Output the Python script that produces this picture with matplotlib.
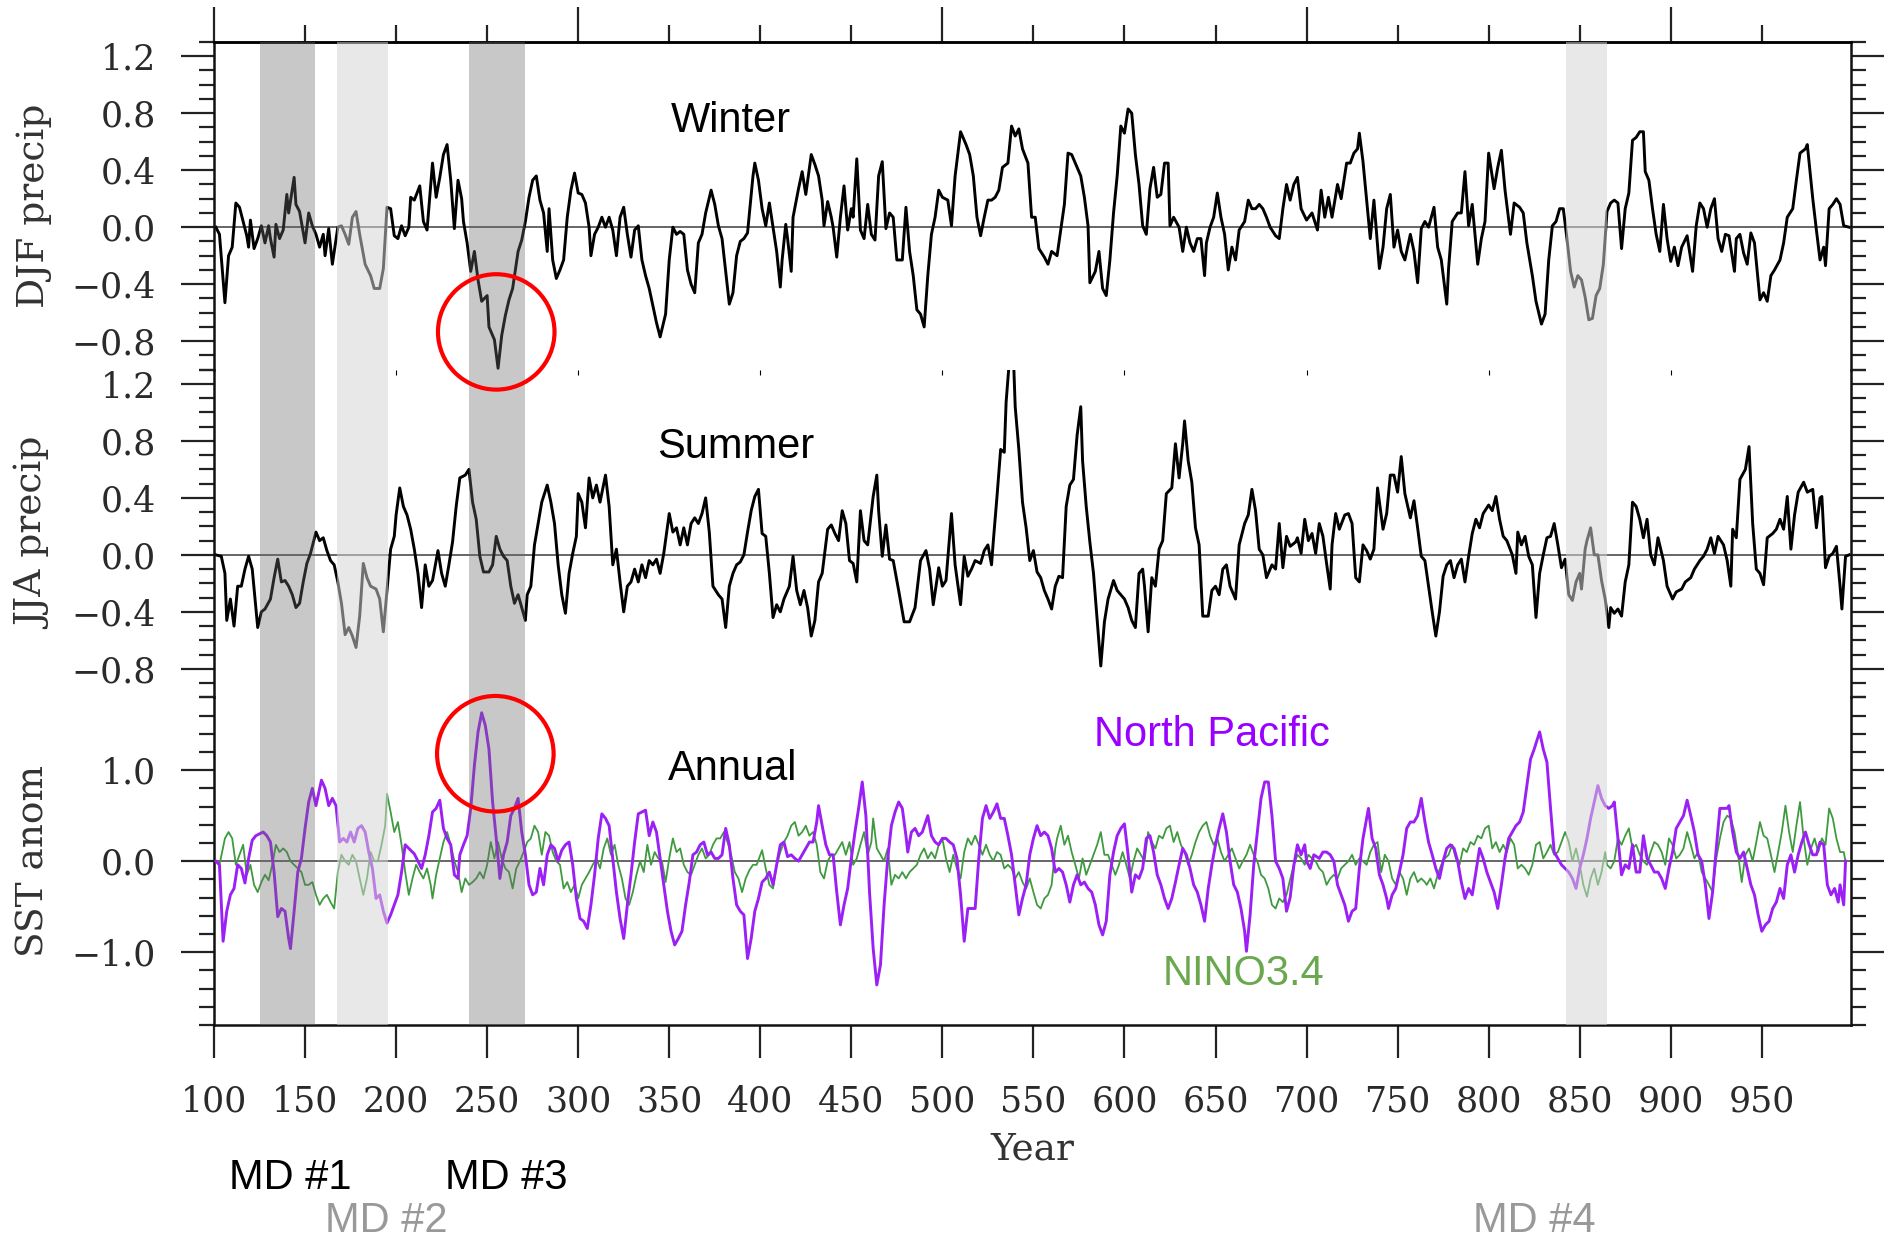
import matplotlib
matplotlib.use("Agg")
import matplotlib.pyplot as plt
from matplotlib.patches import Ellipse
from matplotlib.ticker import FuncFormatter
import numpy as np

plt.rcParams['font.family'] = ['DejaVu Serif']

# ---- data: (year, anomaly) ----
djf = [(101, 0.0), (103, -0.05), (106, -0.53), (108, -0.2), (110, -0.14), (112, 0.17), (114, 0.14), (116, 0.04),
       (118, -0.06), (119, -0.14), (120, 0.05), (122, -0.15), (124, -0.08), (126, 0.01), (128, -0.11), (130, 0.01),
       (131, -0.08), (133, -0.21), (134, 0.02), (136, -0.08), (138, -0.02), (140, 0.23), (141, 0.1), (144, 0.35),
       (145, 0.16), (147, 0.11), (150, -0.11), (152, 0.1), (154, 0.01), (156, -0.05), (158, -0.14), (160, -0.05),
       (161, -0.2), (163, -0.01), (165, -0.26), (168, 0.0), (170, 0.01), (172, -0.05), (174, -0.12), (176, 0.07),
       (178, 0.11), (180, -0.05), (183, -0.26), (186, -0.34), (188, -0.43), (191, -0.43), (193, -0.29), (194, -0.08),
       (195, 0.14), (197, 0.13), (199, -0.06), (201, -0.08), (203, 0.01), (205, -0.06), (207, 0.0), (208, 0.21),
       (210, 0.19), (213, 0.29), (215, 0.04), (217, -0.02), (219, 0.29), (220, 0.45), (222, 0.21), (224, 0.35),
       (226, 0.51), (228, 0.58), (230, 0.33), (232, -0.01), (234, 0.33), (236, 0.2), (237, 0.04), (239, -0.11),
       (241, -0.31), (243, -0.17), (245, -0.37), (247, -0.52), (250, -0.48), (251, -0.7), (254, -0.79), (256, -0.99),
       (258, -0.76), (260, -0.62), (262, -0.51), (264, -0.43), (267, -0.17), (269, -0.09), (271, 0.04), (273, 0.21),
       (275, 0.33), (277, 0.36), (279, 0.19), (281, 0.1), (283, -0.17), (284, 0.13), (286, -0.23), (288, -0.36),
       (290, -0.3), (292, -0.23), (294, 0.07), (296, 0.26), (298, 0.38), (300, 0.24), (302, 0.23), (304, 0.17),
       (306, 0.0), (307, -0.2), (309, -0.05), (311, 0.0), (313, 0.07), (315, 0.0), (317, 0.07), (319, -0.02),
       (321, -0.2), (323, 0.07), (325, 0.14), (327, -0.05), (329, -0.21), (331, -0.02), (333, 0.01), (335, -0.23),
       (337, -0.34), (339, -0.43), (341, -0.55), (343, -0.67), (345, -0.77), (348, -0.61), (350, -0.23), (352, 0.0),
       (354, -0.05), (356, -0.03), (358, -0.05), (360, -0.3), (362, -0.4), (364, -0.46), (366, -0.11), (368, -0.05),
       (370, 0.1), (373, 0.26), (375, 0.16), (377, 0.01), (379, -0.08), (381, -0.31), (383, -0.54), (385, -0.46),
       (387, -0.2), (389, -0.1), (391, -0.08), (393, -0.04), (396, 0.36), (397, 0.45), (399, 0.33), (401, 0.13),
       (403, 0.01), (405, 0.17), (407, 0.0), (409, -0.17), (411, -0.42), (412, -0.23), (414, 0.02), (415, -0.08),
       (417, -0.31), (418, 0.07), (421, 0.27), (423, 0.39), (425, 0.23), (428, 0.51), (430, 0.44), (432, 0.36),
       (434, 0.19), (435, 0.01), (437, 0.18), (439, 0.07), (440, 0.0), (442, -0.21), (444, 0.07), (446, 0.29),
       (448, -0.02), (450, 0.13), (451, 0.07), (453, 0.48), (455, -0.02), (457, -0.08), (459, 0.16), (461, -0.05),
       (463, -0.09), (465, 0.36), (467, 0.46), (469, -0.01), (471, 0.1), (473, 0.07), (475, -0.23), (478, -0.23),
       (480, 0.14), (482, -0.17), (484, -0.34), (486, -0.58), (488, -0.61), (490, -0.7), (492, -0.34), (494, -0.05),
       (496, 0.07), (498, 0.26), (500, 0.21), (503, 0.19), (505, 0.01), (507, 0.36), (510, 0.67), (513, 0.58),
       (515, 0.51), (517, 0.36), (519, 0.07), (521, -0.06), (523, 0.07), (525, 0.19), (527, 0.19), (529, 0.21),
       (531, 0.26), (533, 0.42), (536, 0.45), (538, 0.71), (540, 0.64), (542, 0.69), (544, 0.55), (547, 0.45),
       (549, 0.07), (551, 0.07), (553, -0.15), (556, -0.21), (558, -0.26), (560, -0.17), (563, -0.2), (565, -0.02),
       (567, 0.16), (569, 0.52), (571, 0.51), (574, 0.42), (576, 0.36), (578, 0.21), (580, 0.01), (581, -0.39),
       (584, -0.31), (586, -0.17), (588, -0.43), (590, -0.48), (592, -0.23), (594, 0.1), (596, 0.36), (598, 0.71),
       (600, 0.66), (602, 0.83), (604, 0.8), (606, 0.51), (608, 0.3), (610, 0.01), (612, -0.05), (614, 0.27),
       (616, 0.42), (618, 0.21), (620, 0.23), (622, 0.45), (624, 0.45), (625, 0.01), (627, 0.07), (630, 0.0),
       (632, -0.17), (634, 0.0), (636, -0.11), (638, -0.17), (640, -0.08), (642, -0.08), (644, -0.34), (645, -0.11),
       (647, 0.0), (649, 0.07), (651, 0.24), (653, 0.07), (655, -0.05), (657, -0.3), (659, -0.14), (661, -0.23),
       (663, -0.02), (666, 0.04), (668, 0.19), (670, 0.13), (672, 0.13), (674, 0.16), (676, 0.13), (678, 0.07),
       (680, 0.0), (683, -0.06), (685, -0.08), (687, 0.13), (689, 0.3), (691, 0.19), (693, 0.3), (695, 0.35),
       (697, 0.13), (700, 0.05), (703, 0.1), (706, -0.02), (708, 0.26), (710, 0.07), (712, 0.21), (714, 0.07),
       (717, 0.3), (719, 0.2), (722, 0.45), (724, 0.45), (726, 0.52), (728, 0.55), (729, 0.66), (731, 0.46),
       (733, 0.19), (735, -0.08), (737, 0.19), (740, -0.29), (742, -0.14), (744, 0.13), (746, 0.23), (748, -0.14),
       (750, -0.02), (752, -0.17), (754, -0.23), (757, -0.05), (759, -0.17), (761, -0.39), (763, -0.01), (765, 0.04),
       (767, 0.0), (770, 0.14), (772, -0.14), (774, -0.23), (777, -0.54), (778, -0.29), (780, 0.04), (783, 0.1),
       (785, 0.1), (787, 0.39), (789, 0.01), (791, 0.16), (794, -0.26), (796, -0.08), (798, 0.04), (800, 0.52),
       (803, 0.27), (805, 0.42), (807, 0.54), (809, 0.26), (812, -0.05), (814, 0.17), (817, 0.14), (819, 0.1),
       (821, -0.11), (824, -0.34), (826, -0.52), (829, -0.68), (831, -0.61), (833, -0.23), (835, 0.01), (837, 0.04),
       (839, 0.13), (841, 0.13), (843, -0.08), (845, -0.31), (847, -0.42), (849, -0.34), (851, -0.37), (853, -0.49),
       (855, -0.65), (857, -0.64), (859, -0.48), (861, -0.43), (863, -0.26), (865, 0.11), (867, 0.17), (869, 0.19),
       (871, 0.17), (873, -0.15), (875, 0.13), (877, 0.24), (879, 0.61), (881, 0.63), (883, 0.67), (885, 0.67),
       (886, 0.39), (888, 0.33), (890, 0.13), (892, -0.05), (894, -0.17), (896, 0.16), (898, -0.08), (900, -0.24),
       (902, -0.14), (904, -0.27), (906, -0.14), (909, -0.06), (912, -0.31), (914, 0.01), (916, 0.17), (918, 0.13),
       (920, 0.0), (922, 0.13), (924, 0.2), (926, -0.08), (928, -0.17), (930, -0.05), (932, -0.06), (935, -0.31),
       (936, -0.08), (938, -0.05), (940, -0.18), (942, -0.26), (944, -0.04), (946, -0.11), (949, -0.51), (951, -0.46),
       (953, -0.52), (955, -0.34), (957, -0.3), (960, -0.23), (962, -0.11), (964, 0.07), (967, 0.13), (969, 0.33),
       (971, 0.52), (974, 0.55), (975, 0.58), (978, 0.2), (980, -0.02), (982, -0.23), (984, -0.14), (985, -0.27),
       (987, 0.13), (989, 0.16), (991, 0.2), (993, 0.16), (995, 0.01), (998, 0.0)]

jja = [(101, 0.0), (104, -0.01), (106, -0.13), (107, -0.46), (109, -0.31), (111, -0.5), (113, -0.22), (115, -0.22),
       (117, -0.1), (119, -0.01), (121, -0.1), (124, -0.51), (126, -0.4), (128, -0.38), (131, -0.31), (133, -0.16),
       (135, -0.03), (137, -0.19), (139, -0.18), (141, -0.22), (143, -0.28), (145, -0.37), (147, -0.34), (149, -0.19),
       (151, -0.06), (153, 0.01), (156, 0.16), (158, 0.1), (160, 0.12), (162, 0.03), (164, -0.04), (166, -0.07),
       (168, -0.19), (170, -0.34), (172, -0.56), (174, -0.51), (176, -0.57), (178, -0.65), (180, -0.43), (182, -0.06),
       (184, -0.16), (186, -0.22), (189, -0.24), (191, -0.31), (193, -0.54), (195, -0.25), (197, 0.04), (199, 0.13),
       (200, 0.28), (202, 0.47), (204, 0.34), (206, 0.28), (208, 0.18), (210, 0.04), (212, -0.13), (214, -0.37),
       (216, -0.07), (218, -0.22), (220, -0.18), (222, -0.04), (223, 0.03), (225, -0.13), (227, -0.22), (229, -0.07),
       (231, 0.09), (233, 0.34), (235, 0.54), (238, 0.56), (240, 0.6), (242, 0.37), (244, 0.25), (246, -0.01),
       (248, -0.12), (251, -0.12), (253, -0.07), (255, 0.13), (257, 0.04), (259, -0.01), (261, -0.04), (263, -0.22),
       (265, -0.34), (267, -0.28), (269, -0.37), (271, -0.46), (272, -0.28), (274, -0.22), (276, 0.07), (278, 0.22),
       (280, 0.37), (283, 0.49), (285, 0.37), (287, 0.22), (289, -0.07), (291, -0.28), (293, -0.41), (295, -0.13),
       (297, 0.01), (299, 0.13), (300, 0.43), (302, 0.37), (304, 0.19), (306, 0.54), (308, 0.4), (310, 0.49),
       (312, 0.37), (315, 0.56), (317, 0.34), (319, -0.07), (321, 0.04), (323, -0.19), (325, -0.4), (327, -0.22),
       (329, -0.19), (331, -0.1), (333, -0.19), (335, -0.07), (337, -0.16), (339, -0.04), (341, -0.07), (343, -0.03),
       (345, -0.13), (347, 0.01), (350, 0.29), (352, 0.16), (354, 0.19), (356, 0.07), (358, 0.19), (360, 0.07),
       (362, 0.22), (364, 0.26), (366, 0.22), (368, 0.29), (370, 0.4), (372, 0.16), (374, -0.22), (377, -0.28),
       (379, -0.31), (381, -0.51), (383, -0.22), (385, -0.13), (387, -0.07), (389, -0.05), (391, 0.0), (393, 0.16),
       (395, 0.31), (397, 0.41), (399, 0.46), (401, 0.15), (403, 0.13), (405, -0.13), (407, -0.44), (409, -0.35),
       (411, -0.4), (413, -0.31), (416, -0.22), (418, -0.01), (420, -0.25), (422, -0.35), (424, -0.25), (426, -0.37),
       (428, -0.57), (430, -0.46), (432, -0.19), (434, -0.13), (437, 0.18), (439, 0.21), (441, 0.15), (443, 0.1),
       (445, 0.31), (447, 0.22), (449, -0.04), (451, -0.06), (453, -0.19), (455, 0.31), (457, 0.1), (459, 0.07),
       (462, 0.41), (464, 0.56), (465, 0.31), (467, -0.01), (469, 0.21), (471, -0.03), (473, -0.04), (476, -0.25),
       (479, -0.47), (482, -0.47), (485, -0.37), (488, -0.04), (491, 0.03), (493, -0.1), (495, -0.35), (498, -0.09),
       (500, -0.22), (502, -0.18), (505, 0.29), (507, -0.07), (510, -0.35), (512, -0.01), (514, -0.15), (516, -0.1),
       (518, -0.04), (521, -0.06), (523, 0.03), (525, 0.07), (527, -0.07), (528, 0.1), (530, 0.41), (532, 0.74),
       (534, 0.72), (535, 1.07), (537, 1.4), (539, 1.4), (540, 1.04), (542, 0.74), (544, 0.37), (546, 0.19),
       (548, -0.04), (550, 0.03), (552, -0.12), (554, -0.16), (556, -0.25), (558, -0.31), (560, -0.38), (562, -0.22),
       (564, -0.15), (566, -0.16), (568, 0.34), (570, 0.49), (572, 0.53), (574, 0.84), (576, 1.04), (577, 0.66),
       (579, 0.34), (581, 0.09), (583, -0.13), (585, -0.46), (587, -0.78), (589, -0.47), (591, -0.31), (594, -0.18),
       (596, -0.25), (598, -0.28), (600, -0.31), (602, -0.37), (604, -0.46), (606, -0.51), (608, -0.13), (610, -0.1),
       (611, -0.22), (613, -0.54), (615, -0.16), (617, -0.22), (619, 0.04), (621, 0.1), (623, 0.43), (626, 0.47),
       (628, 0.78), (630, 0.54), (632, 0.78), (633, 0.94), (635, 0.66), (637, 0.51), (639, 0.19), (641, 0.07),
       (643, -0.43), (646, -0.43), (648, -0.25), (650, -0.22), (652, -0.28), (654, -0.1), (656, -0.07), (658, -0.22),
       (661, -0.31), (663, 0.07), (666, 0.22), (668, 0.28), (670, 0.46), (672, 0.31), (674, 0.04), (676, 0.0),
       (678, -0.16), (681, -0.07), (683, -0.1), (685, 0.22), (687, -0.09), (689, 0.13), (691, 0.06), (694, 0.09),
       (695, 0.12), (697, 0.01), (699, 0.25), (701, 0.1), (703, 0.15), (705, 0.01), (707, 0.22), (709, 0.13),
       (711, -0.06), (713, -0.24), (714, 0.07), (716, 0.29), (718, 0.18), (721, 0.28), (723, 0.29), (725, 0.22),
       (727, -0.16), (729, -0.19), (731, 0.07), (733, 0.03), (735, -0.03), (737, 0.04), (739, 0.47), (742, 0.18),
       (744, 0.29), (746, 0.56), (748, 0.56), (750, 0.44), (752, 0.69), (754, 0.43), (757, 0.26), (759, 0.38),
       (761, 0.19), (763, -0.01), (765, -0.04), (767, -0.22), (769, -0.4), (771, -0.57), (773, -0.4), (775, -0.15),
       (777, -0.07), (779, -0.04), (781, -0.16), (783, -0.07), (785, -0.03), (787, -0.19), (789, -0.01), (791, 0.15),
       (793, 0.25), (795, 0.19), (797, 0.29), (800, 0.35), (802, 0.31), (804, 0.41), (806, 0.25), (808, 0.13),
       (810, 0.1), (813, 0.0), (815, -0.13), (816, 0.16), (818, 0.07), (820, 0.13), (822, -0.01), (824, -0.07),
       (826, -0.44), (828, -0.13), (830, 0.0), (832, 0.12), (834, 0.13), (836, 0.22), (838, 0.07), (840, -0.09),
       (842, -0.03), (844, -0.28), (846, -0.32), (848, -0.19), (850, -0.13), (851, -0.24), (853, 0.04), (854, 0.1),
       (856, 0.19), (858, 0.0), (860, 0.0), (862, -0.18), (864, -0.31), (866, -0.51), (867, -0.37), (869, -0.41),
       (871, -0.38), (873, -0.43), (875, -0.19), (877, -0.07), (879, 0.37), (881, 0.34), (883, 0.25), (885, 0.12),
       (887, 0.25), (889, 0.0), (891, -0.07), (893, 0.12), (896, -0.04), (898, -0.22), (901, -0.31), (903, -0.26),
       (906, -0.24), (908, -0.19), (911, -0.16), (913, -0.1), (916, -0.04), (918, -0.01), (920, 0.04), (922, 0.12),
       (924, 0.01), (926, 0.13), (929, 0.07), (931, -0.04), (933, -0.22), (934, 0.18), (936, 0.12), (938, 0.53),
       (941, 0.6), (943, 0.76), (945, 0.22), (947, -0.1), (949, -0.13), (951, -0.21), (953, 0.12), (956, 0.15),
       (958, 0.18), (960, 0.25), (962, 0.18), (964, 0.41), (966, 0.04), (968, 0.28), (970, 0.44), (973, 0.51),
       (975, 0.44), (978, 0.46), (980, 0.19), (982, 0.4), (983, 0.41), (985, -0.09), (987, -0.01), (989, 0.01),
       (991, 0.06), (993, -0.22), (994, -0.38), (996, -0.01), (998, 0.0)]

north_pacific = [
    (101, 0.0), (103, -0.04), (105, -0.88), (107, -0.55), (109, -0.37), (111, -0.3), (113, -0.04), (115, -0.08),
    (117, -0.24), (119, 0.03), (121, 0.23), (123, 0.28), (125, 0.3), (127, 0.32), (129, 0.28), (131, 0.21),
    (133, -0.12), (135, -0.61), (137, -0.52), (139, -0.55), (141, -0.85), (142, -0.96), (144, -0.55), (146, -0.12),
    (148, 0.03), (150, 0.36), (152, 0.65), (154, 0.8), (156, 0.61), (158, 0.8), (159, 0.89), (161, 0.8),
    (163, 0.61), (165, 0.69), (167, 0.61), (169, 0.21), (171, 0.25), (173, 0.21), (175, 0.32), (177, 0.21),
    (179, 0.36), (181, 0.39), (183, 0.32), (185, 0.1), (187, -0.08), (189, -0.41), (191, -0.37), (193, -0.55),
    (195, -0.68), (197, -0.59), (199, -0.48), (201, -0.37), (203, -0.12), (205, 0.18), (207, 0.14), (210, 0.08),
    (212, 0.0), (214, -0.08), (216, 0.07), (218, 0.28), (220, 0.54), (222, 0.58), (224, 0.67), (226, 0.36),
    (228, 0.25), (230, 0.18), (232, -0.15), (234, -0.19), (235, 0.07), (237, 0.18), (239, 0.28), (241, 0.58),
    (243, 1.05), (245, 1.42), (247, 1.63), (249, 1.49), (251, 1.23), (253, 0.65), (255, 0.25), (257, -0.19),
    (259, 0.07), (261, 0.21), (263, 0.5), (265, 0.58), (267, 0.69), (269, 0.32), (271, 0.07), (273, -0.26),
    (275, -0.37), (277, -0.34), (279, -0.08), (281, -0.26), (283, 0.07), (285, 0.18), (287, 0.14), (289, 0.0),
    (291, 0.12), (293, 0.18), (295, 0.21), (297, -0.04), (299, -0.41), (301, -0.63), (303, -0.66), (305, -0.74),
    (307, -0.48), (309, -0.15), (311, 0.25), (313, 0.52), (315, 0.47), (317, 0.39), (319, 0.03), (321, -0.34),
    (323, -0.63), (325, -0.85), (327, -0.48), (329, -0.15), (331, 0.21), (333, 0.52), (335, 0.54), (337, 0.56),
    (339, 0.28), (341, 0.43), (343, 0.32), (345, 0.03), (347, -0.26), (349, -0.55), (351, -0.77), (353, -0.92),
    (355, -0.85), (357, -0.77), (359, -0.48), (361, -0.23), (363, 0.07), (365, 0.1), (367, 0.18), (369, 0.21),
    (371, 0.07), (373, 0.1), (375, 0.03), (377, 0.03), (379, 0.07), (381, 0.36), (383, 0.18), (385, -0.19),
    (387, -0.48), (389, -0.55), (391, -0.59), (393, -1.07), (395, -0.85), (397, -0.55), (399, -0.41), (401, -0.23),
    (403, -0.19), (405, -0.12), (407, -0.26), (409, -0.04), (411, 0.18), (413, 0.21), (415, 0.05), (417, 0.07),
    (419, 0.03), (421, 0.0), (423, 0.07), (425, 0.14), (427, 0.21), (429, 0.21), (431, 0.43), (432, 0.61),
    (434, 0.39), (436, 0.18), (438, 0.07), (440, 0.07), (442, -0.34), (444, -0.7), (446, -0.48), (448, -0.3),
    (450, 0.03), (452, 0.32), (454, 0.58), (456, 0.87), (458, 0.5), (460, -0.34), (462, -0.96), (464, -1.36),
    (466, -1.14), (468, -0.48), (470, 0.03), (472, 0.39), (474, 0.54), (476, 0.65), (478, 0.58), (480, 0.28),
    (481, 0.1), (483, 0.32), (485, 0.36), (487, 0.28), (489, 0.32), (492, 0.5), (494, 0.28), (496, 0.21),
    (498, 0.18), (500, 0.25), (502, 0.25), (504, 0.21), (506, 0.18), (508, 0.03), (510, -0.37), (512, -0.88),
    (514, -0.52), (516, -0.52), (518, -0.52), (520, 0.03), (522, 0.47), (524, 0.61), (526, 0.47), (528, 0.54),
    (530, 0.63), (532, 0.47), (534, 0.47), (536, 0.28), (538, 0.07), (540, -0.26), (542, -0.59), (544, -0.41),
    (546, -0.26), (548, 0.07), (550, 0.25), (552, 0.39), (554, 0.28), (556, 0.32), (558, 0.28), (560, 0.14),
    (562, -0.12), (564, -0.08), (566, -0.12), (568, -0.26), (570, -0.45), (572, -0.26), (574, -0.15), (576, -0.26),
    (578, -0.23), (580, -0.3), (582, -0.34), (584, -0.48), (586, -0.7), (588, -0.81), (590, -0.66), (592, -0.15),
    (594, 0.1), (596, 0.28), (598, 0.36), (600, 0.41), (602, 0.07), (604, -0.34), (606, -0.15), (608, -0.19),
    (610, -0.08), (612, 0.25), (614, 0.28), (616, 0.1), (618, -0.15), (620, -0.26), (622, -0.41), (624, -0.52),
    (626, -0.41), (628, -0.23), (630, -0.04), (632, 0.14), (634, 0.07), (636, -0.08), (638, -0.26), (640, -0.34),
    (642, -0.48), (644, -0.66), (646, -0.3), (648, -0.04), (650, 0.18), (652, 0.36), (654, 0.52), (656, 0.32),
    (658, 0.0), (660, -0.26), (662, -0.34), (664, -0.52), (666, -0.77), (667, -0.99), (669, -0.59), (671, -0.04),
    (673, 0.32), (675, 0.69), (677, 0.87), (679, 0.87), (681, 0.5), (683, 0.0), (685, -0.08), (687, -0.19),
    (689, -0.55), (691, -0.4), (693, -0.05), (695, 0.18), (697, 0.07), (699, 0.18), (700, 0.0), (702, -0.08),
    (704, 0.07), (707, 0.03), (709, 0.1), (711, 0.1), (713, 0.07), (715, 0.0), (717, -0.26), (719, -0.37),
    (721, -0.48), (723, -0.66), (725, -0.55), (727, -0.52), (729, -0.08), (731, 0.25), (733, 0.47), (734, 0.58),
    (736, 0.25), (738, 0.14), (740, -0.15), (742, -0.26), (744, -0.41), (745, -0.52), (747, -0.37), (749, -0.3),
    (751, -0.12), (753, 0.07), (755, 0.36), (757, 0.43), (759, 0.43), (761, 0.5), (763, 0.69), (765, 0.43),
    (767, 0.21), (769, 0.07), (771, -0.08), (773, -0.19), (775, 0.0), (777, 0.14), (779, 0.18), (781, 0.14),
    (783, 0.0), (785, -0.23), (787, -0.41), (789, -0.3), (791, -0.37), (793, -0.12), (795, 0.14), (797, 0.03),
    (799, -0.12), (801, -0.23), (803, -0.34), (805, -0.52), (807, -0.26), (809, 0.03), (811, 0.25), (813, 0.32),
    (815, 0.39), (817, 0.43), (819, 0.54), (821, 0.83), (823, 1.12), (825, 1.23), (828, 1.42), (830, 1.23),
    (832, 1.09), (834, 0.58), (836, 0.1), (838, 0.03), (840, -0.04), (842, -0.08), (844, -0.12), (846, -0.19),
    (848, -0.3), (850, -0.08), (852, 0.07), (854, 0.25), (856, 0.47), (858, 0.65), (860, 0.83), (862, 0.69),
    (864, 0.61), (866, 0.58), (868, 0.61), (869, 0.65), (871, 0.25), (873, -0.15), (875, -0.04), (877, -0.08),
    (879, 0.18), (881, -0.12), (883, -0.12), (885, 0.28), (887, 0.03), (889, -0.04), (891, -0.12), (893, -0.12),
    (895, -0.19), (897, -0.3), (899, -0.08), (901, 0.1), (903, 0.36), (905, 0.43), (907, 0.5), (909, 0.67),
    (911, 0.5), (913, 0.32), (915, 0.07), (917, 0.0), (919, -0.26), (921, -0.63), (923, -0.34), (925, 0.14),
    (927, 0.58), (929, 0.58), (931, 0.58), (932, 0.61), (934, 0.32), (936, 0.1), (938, 0.03), (940, 0.1),
    (942, -0.08), (944, -0.26), (946, -0.37), (948, -0.59), (950, -0.77), (952, -0.7), (954, -0.66), (956, -0.52),
    (958, -0.45), (960, -0.3), (962, -0.41), (964, -0.04), (966, 0.07), (968, -0.12), (970, 0.07), (972, 0.21),
    (974, 0.32), (976, 0.18), (978, 0.07), (980, 0.07), (982, 0.21), (984, 0.18), (986, -0.26), (988, -0.37),
    (990, -0.3), (992, -0.45), (993, -0.26), (995, -0.48), (996, 0.0)]

nino34 = [
    (101, 0.0), (103, -0.04), (106, 0.25), (108, 0.32), (110, 0.25), (112, -0.04), (114, 0.07), (116, 0.18),
    (118, -0.15), (120, -0.04), (122, -0.26), (124, -0.34), (126, -0.23), (128, -0.15), (130, -0.21), (132, -0.04),
    (134, 0.18), (136, 0.1), (138, 0.14), (140, 0.1), (142, 0.0), (144, -0.04), (146, -0.08), (148, -0.12),
    (150, -0.26), (152, -0.26), (154, -0.23), (156, -0.37), (158, -0.48), (160, -0.41), (162, -0.37), (164, -0.45),
    (166, -0.52), (168, -0.12), (170, 0.07), (172, 0.0), (174, -0.04), (176, 0.07), (178, 0.0), (180, -0.19),
    (182, -0.37), (184, -0.19), (186, 0.1), (188, 0.0), (190, 0.0), (192, 0.18), (194, 0.39), (195, 0.74),
    (197, 0.54), (199, 0.32), (201, 0.43), (203, 0.18), (205, -0.12), (207, -0.37), (209, -0.19), (211, -0.04),
    (213, -0.12), (215, -0.19), (217, -0.08), (219, -0.26), (220, -0.41), (222, -0.15), (224, 0.03), (226, 0.21),
    (228, 0.32), (230, 0.18), (232, 0.0), (234, -0.12), (236, -0.34), (238, -0.19), (240, -0.26), (242, -0.23),
    (244, -0.19), (246, -0.12), (248, -0.19), (250, -0.04), (252, 0.21), (254, 0.03), (256, 0.21), (258, 0.03),
    (260, -0.08), (262, -0.12), (264, -0.3), (266, -0.08), (268, 0.0), (270, 0.1), (272, 0.21), (274, 0.25),
    (276, 0.39), (278, 0.32), (280, 0.07), (282, 0.32), (284, 0.28), (286, 0.1), (288, 0.0), (290, -0.04),
    (292, -0.3), (294, -0.23), (296, -0.34), (298, -0.26), (300, -0.41), (302, -0.26), (304, -0.19), (306, -0.12),
    (308, -0.04), (310, 0.03), (312, -0.08), (314, 0.14), (316, 0.25), (318, 0.07), (320, 0.18), (322, -0.04),
    (324, -0.19), (326, -0.41), (328, -0.48), (330, -0.34), (332, -0.15), (334, 0.0), (336, -0.12), (338, 0.18),
    (340, -0.04), (342, 0.1), (344, 0.03), (346, 0.0), (348, -0.23), (350, 0.03), (352, 0.25), (354, 0.1),
    (356, 0.14), (358, -0.04), (360, -0.12), (362, -0.15), (364, -0.04), (366, 0.07), (368, 0.14), (370, 0.03),
    (372, 0.07), (374, 0.18), (376, 0.25), (378, 0.25), (380, 0.32), (382, 0.21), (384, 0.07), (386, -0.12),
    (388, -0.19), (390, -0.34), (392, -0.19), (394, -0.1), (396, -0.04), (398, -0.04), (401, 0.12), (403, -0.08),
    (405, -0.26), (407, -0.3), (409, -0.04), (411, 0.1), (413, 0.21), (415, 0.28), (417, 0.39), (419, 0.43),
    (421, 0.28), (423, 0.32), (425, 0.39), (427, 0.28), (429, 0.32), (431, 0.18), (433, -0.12), (435, -0.19),
    (437, 0.0), (439, 0.07), (441, 0.07), (443, 0.14), (445, 0.21), (447, 0.07), (449, 0.21), (451, -0.04),
    (453, 0.03), (455, 0.18), (457, 0.32), (459, 0.07), (461, 0.21), (462, 0.47), (464, 0.14), (466, 0.07),
    (468, 0.0), (470, 0.14), (472, -0.26), (474, -0.15), (476, -0.19), (478, -0.12), (480, -0.19), (482, -0.12),
    (484, -0.08), (486, -0.04), (488, 0.07), (490, 0.14), (492, 0.03), (494, 0.1), (496, 0.03), (498, 0.18),
    (500, 0.25), (502, 0.03), (504, -0.12), (506, 0.07), (508, -0.08), (510, -0.19), (512, 0.1), (514, 0.25),
    (516, 0.18), (518, 0.28), (520, 0.18), (522, 0.07), (524, 0.18), (526, 0.07), (528, 0.0), (530, 0.1),
    (532, 0.07), (534, -0.08), (536, -0.04), (538, -0.08), (540, -0.19), (542, -0.12), (544, -0.23), (546, -0.3),
    (548, -0.19), (550, -0.34), (552, -0.48), (554, -0.52), (556, -0.41), (558, -0.37), (560, -0.26), (562, 0.14),
    (563, 0.25), (565, 0.39), (567, 0.18), (569, 0.28), (571, 0.1), (573, -0.04), (575, -0.19), (577, 0.03),
    (579, -0.15), (581, -0.04), (583, 0.07), (585, 0.18), (587, 0.32), (589, 0.07), (591, 0.07), (593, -0.04),
    (595, -0.15), (597, -0.04), (599, 0.1), (601, -0.04), (603, -0.19), (605, 0.0), (607, 0.14), (609, 0.07),
    (611, 0.0), (613, 0.32), (615, 0.21), (617, 0.14), (619, 0.28), (621, 0.25), (623, 0.36), (625, 0.39),
    (627, 0.21), (629, 0.32), (631, 0.18), (633, 0.1), (635, -0.04), (637, 0.07), (639, 0.21), (641, 0.32),
    (643, 0.39), (645, 0.43), (647, 0.28), (649, 0.18), (651, 0.25), (653, 0.1), (655, 0.0), (657, 0.07),
    (659, 0.14), (661, 0.03), (663, -0.08), (665, 0.0), (667, 0.07), (669, 0.18), (671, 0.07), (673, 0.0),
    (675, -0.15), (677, -0.19), (679, -0.3), (681, -0.48), (683, -0.52), (685, -0.41), (687, -0.45), (689, -0.37),
    (691, -0.2), (693, -0.04), (695, 0.07), (697, 0.03), (699, -0.04), (701, 0.07), (703, 0.03), (705, 0.0),
    (707, -0.08), (709, -0.12), (711, -0.26), (713, -0.19), (715, -0.15), (717, -0.19), (719, -0.08), (721, -0.04),
    (723, 0.0), (725, 0.07), (727, -0.04), (729, 0.03), (731, 0.0), (733, -0.04), (735, 0.1), (737, 0.18),
    (739, 0.21), (741, -0.12), (743, 0.07), (745, 0.0), (747, -0.19), (749, -0.26), (751, -0.12), (753, -0.19),
    (755, -0.37), (757, -0.19), (759, -0.12), (761, -0.23), (763, -0.19), (765, -0.23), (766, -0.26), (768, -0.19),
    (770, -0.3), (772, -0.15), (774, -0.04), (776, 0.03), (778, 0.07), (780, 0.18), (782, 0.03), (784, -0.04),
    (786, 0.14), (788, 0.1), (790, 0.21), (792, 0.18), (794, 0.28), (796, 0.25), (798, 0.36), (800, 0.39),
    (802, 0.14), (804, 0.21), (806, 0.1), (808, 0.18), (810, 0.1), (812, 0.25), (814, 0.18), (816, -0.08),
    (818, -0.04), (820, -0.08), (822, -0.15), (824, -0.04), (826, 0.18), (828, 0.21), (830, 0.03), (832, 0.1),
    (834, 0.18), (836, 0.07), (838, 0.1), (840, 0.21), (842, 0.32), (844, 0.21), (846, 0.0), (848, 0.14),
    (850, -0.04), (852, -0.26), (854, -0.39), (856, -0.19), (858, -0.08), (860, -0.26), (862, -0.12), (864, 0.1),
    (865, -0.04), (867, -0.08), (869, 0.0), (871, 0.25), (873, 0.18), (875, 0.28), (877, 0.36), (879, 0.14),
    (881, 0.18), (883, 0.07), (885, 0.0), (887, -0.04), (889, 0.1), (891, 0.21), (893, 0.18), (895, 0.1),
    (897, -0.04), (899, 0.25), (901, 0.18), (903, 0.03), (905, 0.07), (907, 0.14), (909, 0.32), (911, 0.18),
    (913, 0.03), (915, 0.1), (917, -0.12), (919, -0.19), (921, -0.26), (923, -0.34), (925, 0.03), (927, 0.25),
    (929, 0.43), (931, 0.5), (933, 0.47), (935, 0.32), (937, 0.07), (939, -0.23), (941, 0.07), (943, 0.14),
    (945, 0.0), (947, 0.21), (949, 0.43), (951, 0.28), (953, 0.25), (955, 0.07), (957, -0.12), (959, 0.1),
    (961, 0.32), (963, 0.61), (965, 0.32), (967, 0.1), (969, 0.39), (971, 0.65), (973, 0.25), (975, -0.04),
    (977, 0.14), (979, 0.25), (981, 0.1), (983, 0.25), (985, 0.18), (987, 0.58), (989, 0.47), (991, 0.25),
    (993, 0.1), (995, 0.1), (996, 0.0)]

# megadrought periods (start year, end year)
md_spans = [(125, 155.5), (167.5, 195.5), (240, 271), (842.5, 865)]
md_dark = [True, False, True, False]

W_PX, H_PX = 1885, 1240


def fx(x):
    return x / W_PX


def fy(y):
    return 1 - y / H_PX


def fmt_tick(v, pos):
    s = '%.1f' % v
    if s == '-0.0':
        s = '0.0'
    return s.replace('-', '\u2212')


fig = plt.figure(figsize=(18.85, 12.40), dpi=100)

left, right = 214, 1851
top, bottom = 42, 1025
ph = (bottom - top) / 3.0
ax_w = (right - left) / W_PX
ax_h = ph / H_PX

axes = []
for i in range(3):
    y_top = top + i * ph
    ax = fig.add_axes([fx(left), fy(y_top + ph), ax_w, ax_h])
    ax.set_facecolor('none')
    ax.set_xlim(100, 999)
    axes.append(ax)
ax_djf, ax_jja, ax_sst = axes

tick_c = '#222222'
for ax, ylim, major, minor in [
        (ax_djf, (-1.0, 1.3), [-0.8, -0.4, 0, 0.4, 0.8, 1.2], np.arange(-1.0, 1.31, 0.1)),
        (ax_jja, (-1.0, 1.3), [-0.8, -0.4, 0, 0.4, 0.8, 1.2], np.arange(-1.0, 1.31, 0.1)),
        (ax_sst, (-1.8, 1.8), [-1.0, 0.0, 1.0], np.arange(-1.8, 1.81, 0.2))]:
    ax.set_ylim(*ylim)
    ax.set_yticks(major)
    ax.set_yticks(minor, minor=True)
    ax.yaxis.set_major_formatter(FuncFormatter(fmt_tick))
    ax.tick_params(axis='y', which='both', direction='out', left=True, right=True,
                   labelleft=True, labelright=False, width=1.6, color=tick_c)
    ax.tick_params(axis='y', which='major', length=24, pad=18, labelsize=25, labelcolor='#2a2a2a')
    ax.tick_params(axis='y', which='minor', length=11)
    for s in ax.spines.values():
        s.set_linewidth(1.8)
        s.set_color('#111111')
    ax.spines['top'].set_visible(ax is ax_djf)
    ax.spines['bottom'].set_visible(ax is ax_sst)
    ax.axhline(0, color='#666666', lw=1.4, zorder=1)

for ax in (ax_djf, ax_jja):
    ax.tick_params(axis='x', which='both', bottom=False, top=False, labelbottom=False)

ax_sst.set_xticks(np.arange(100, 951, 50))
ax_sst.tick_params(axis='x', which='major', direction='out', length=24, width=1.6, color=tick_c,
                   pad=19, labelsize=25, labelcolor='#2a2a2a', top=False)

# top axis: long ticks every 200 years, short every 50
ax_top = ax_djf.twiny()
ax_top.set_xlim(100, 999)
ax_top.set_xticks([100, 300, 500, 700, 900])
ax_top.set_xticks(np.arange(150, 999, 50), minor=True)
ax_top.tick_params(axis='x', which='both', direction='out', top=True, bottom=False,
                   labeltop=False, width=1.6, color=tick_c)
ax_top.tick_params(axis='x', which='major', length=25)
ax_top.tick_params(axis='x', which='minor', length=12)
for s in ['left', 'right', 'bottom']:
    ax_top.spines[s].set_visible(False)
ax_top.spines['top'].set_linewidth(1.8)

# series
yr, val = zip(*djf)
ax_djf.plot(yr, val, color='black', lw=2.1, zorder=2)
yr, val = zip(*jja)
ax_jja.plot(yr, val, color='black', lw=2.1, zorder=2)
yr, val = zip(*nino34)
ax_sst.plot(yr, val, color='#3f9a3f', lw=1.3, zorder=2)
yr, val = zip(*north_pacific)
ax_sst.plot(yr, val, color='#9b20f5', lw=2.1, zorder=3)

# shading over the lines (translucent, so the curves show through greyed)
ov = fig.add_axes([fx(left), fy(bottom), ax_w, (bottom - top) / H_PX], zorder=5)
ov.set_xlim(100, 999)
ov.set_ylim(0, 1)
ov.axis('off')
ov.patch.set_alpha(0)
for (x0, x1), dark in zip(md_spans, md_dark):
    if dark:
        ov.axvspan(x0, x1, facecolor='#6a6a6a', alpha=0.37, lw=0)
    else:
        ov.axvspan(x0, x1, facecolor='#d4d4d4', alpha=0.53, lw=0)

# red circles
c1 = Ellipse((255, -0.735), 64, 0.81, transform=ax_djf.transData, fill=False,
             edgecolor='red', lw=3, clip_on=False)
c2 = Ellipse((254.5, 1.18), 64, 1.27, transform=ax_sst.transData, fill=False,
             edgecolor='red', lw=3, clip_on=False)
ov.add_artist(c1)
ov.add_artist(c2)

# labels
ylab = dict(rotation=90, ha='center', va='center', fontsize=27, color='#333333')
fig.text(fx(34), fy(top + ph / 2), 'DJF precip', **ylab)
fig.text(fx(34), fy(top + 1.5 * ph), 'JJA precip', **ylab)
fig.text(fx(34), fy(top + 2.5 * ph), 'SST anom', **ylab)
fig.text(fx((left + right) / 2), fy(1150), 'Year', ha='center', va='center', fontsize=27, color='#333333')

sans = dict(family='Liberation Sans', fontsize=30, ha='center', va='center')
fig.text(fx(731), fy(121), 'Winter', color='black', **sans)
fig.text(fx(736), fy(447), 'Summer', color='black', **sans)
fig.text(fx(733), fy(769), 'Annual', color='black', **sans)
fig.text(fx(1212), fy(735), 'North Pacific', color='#9900ff', **sans)
fig.text(fx(1244), fy(974), 'NINO3.4', color='#6aa84f', **sans)
fig.text(fx(290), fy(1178), 'MD #1', color='black', **sans)
fig.text(fx(506), fy(1178), 'MD #3', color='black', **sans)
fig.text(fx(386), fy(1221), 'MD #2', color='#999999', **sans)
fig.text(fx(1534), fy(1221), 'MD #4', color='#999999', **sans)

fig.savefig('out.png', dpi=100, facecolor='white')
